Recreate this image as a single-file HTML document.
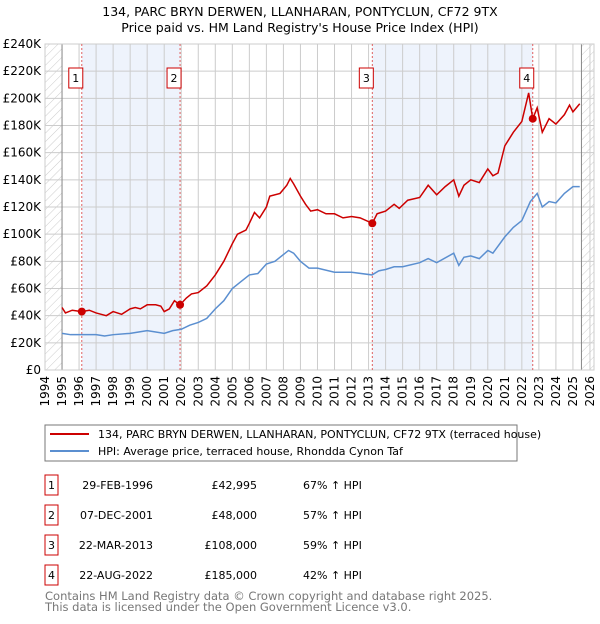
<!DOCTYPE html>
<html><head><meta charset="utf-8"><style>
body{margin:0;background:#fff;font-family:"DejaVu Sans","Liberation Sans",sans-serif;}
svg text{font-family:"DejaVu Sans","Liberation Sans",sans-serif;}
</style></head><body>
<svg id="chart" width="600" height="620" xmlns="http://www.w3.org/2000/svg">
<defs><pattern id="hatch" patternUnits="userSpaceOnUse" width="6" height="6" patternTransform="rotate(45)"><line x1="0" y1="0" x2="0" y2="6" stroke="#ccc" stroke-width="1"/></pattern></defs>
<text x="300" y="16" text-anchor="middle" font-size="12.5" fill="#000">134, PARC BRYN DERWEN, LLANHARAN, PONTYCLUN, CF72 9TX</text>
<text x="300" y="32" text-anchor="middle" font-size="12.5" fill="#000">Price paid vs. HM Land Registry's House Price Index (HPI)</text>
<g id="plot"></g>
<rect x="45" y="425" width="472" height="36" fill="#fff" stroke="#777"/>
<line x1="50" y1="434" x2="89" y2="434" stroke="#cc0000" stroke-width="2"/>
<text x="98" y="438" font-size="11">134, PARC BRYN DERWEN, LLANHARAN, PONTYCLUN, CF72 9TX (terraced house)</text>
<line x1="50" y1="451" x2="89" y2="451" stroke="#5b8fd0" stroke-width="2"/>
<text x="98" y="455" font-size="11">HPI: Average price, terraced house, Rhondda Cynon Taf</text>
<g id="table" font-size="11"></g>
<text x="45" y="600" font-size="11.5" fill="#777">Contains HM Land Registry data © Crown copyright and database right 2025.</text>
<text x="45" y="611" font-size="11.5" fill="#777">This data is licensed under the Open Government Licence v3.0.</text>
</svg>
<script>
const redT=[1995.0,1995.2,1995.6,1996.16,1996.6,1997,1997.3,1997.6,1998,1998.5,1999,1999.3,1999.6,2000,2000.5,2000.8,2001,2001.3,2001.6,2001.93,2002.3,2002.6,2003,2003.5,2004,2004.5,2005,2005.3,2005.8,2006,2006.3,2006.6,2007,2007.2,2007.8,2008.2,2008.4,2008.6,2009,2009.3,2009.6,2010,2010.5,2011,2011.5,2012,2012.5,2013.22,2013.5,2014,2014.5,2014.8,2015.3,2016,2016.5,2017,2017.5,2018,2018.3,2018.6,2019,2019.5,2020,2020.3,2020.6,2021,2021.5,2022,2022.4,2022.64,2022.9,2023.2,2023.6,2024,2024.5,2024.8,2025,2025.4];
const redV=[46,42,44,43,44,42,41,40,43,41,45,46,45,48,48,47,43,45,51,48,53,56,57,62,70,80,93,100,103,108,116,112,120,128,130,136,141,137,128,122,117,118,115,115,112,113,112,108,115,117,122,119,125,127,136,129,135,140,128,136,140,138,148,143,145,165,175,183,204,185,193,175,185,181,188,195,190,196];
const blueT=[1995,1995.5,1996,1997,1997.5,1998,1999,1999.5,2000,2001,2001.5,2002,2002.5,2003,2003.5,2004,2004.5,2005,2005.5,2006,2006.5,2007,2007.5,2008,2008.3,2008.6,2009,2009.5,2010,2011,2012,2013.2,2013.6,2014,2014.5,2015,2016,2016.5,2017,2018,2018.3,2018.6,2019,2019.5,2020,2020.3,2021,2021.5,2022,2022.5,2022.9,2023.2,2023.6,2024,2024.5,2025,2025.4];
const blueV=[27,26,26,26,25,26,27,28,29,27,29,30,33,35,38,45,51,60,65,70,71,78,80,85,88,86,80,75,75,72,72,70,73,74,76,76,79,82,79,86,77,83,84,82,88,86,98,105,110,124,130,120,124,123,130,135,135];
const saleT=[2001.93-5.77,2001.93,2013.22,2022.64];
const saleV=[42.995,48,108,185];
const saleLabels=["1","2","3","4"];
const saleDates=["29-FEB-1996","07-DEC-2001","22-MAR-2013","22-AUG-2022"];
const salePrices=["£42,995","£48,000","£108,000","£185,000"];
const salePct=["67% ↑ HPI","57% ↑ HPI","59% ↑ HPI","42% ↑ HPI"];
const yTicks=[0,20,40,60,80,100,120,140,160,180,200,220,240];
const xTicks=[1994,1995,1996,1997,1998,1999,2000,2001,2002,2003,2004,2005,2006,2007,2008,2009,2010,2011,2012,2013,2014,2015,2016,2017,2018,2019,2020,2021,2022,2023,2024,2025,2026];
const L=45,R=594,T=44,B=370;
const x=t=>L+(t-1994)*17.03;
const y=v=>B-(v/240)*(B-T);
const NS="http://www.w3.org/2000/svg";
const g=document.getElementById('plot');
function mk(tag,attrs,parent){const e=document.createElementNS(NS,tag);for(const k in attrs)e.setAttribute(k,attrs[k]);(parent||g).appendChild(e);return e;}
// bands
let b1=mk('rect',{x:x(saleT[0]),y:T,width:x(saleT[1])-x(saleT[0]),height:B-T,fill:'#eef3fc'});


let b2=mk('rect',{x:x(saleT[2]),y:T,width:x(saleT[3])-x(saleT[2]),height:B-T,fill:'#eef3fc'});


// hatch
let h1=mk('rect',{x:L,y:T,width:x(1995)-L,height:B-T,fill:'url(#hatch)'});


let h2=mk('rect',{x:x(2025.5),y:T,width:R-x(2025.5),height:B-T,fill:'url(#hatch)'});


yTicks.forEach(v=>{
 let l=mk('line',{x1:L,x2:R,y1:y(v),y2:y(v),stroke:'#ccc'});
 
 
 let t=mk('text',{x:L-4,y:y(v)+4,'text-anchor':'end','font-size':'12'});
 t.textContent='£'+v+(v?'K':'');
 
 
});
xTicks.forEach(v=>{
 let l=mk('line',{x1:x(v),x2:x(v),y1:T,y2:B,stroke:'#ccc'});
 
 
 let t=mk('text',{x:0,y:0,'text-anchor':'end','font-size':'12',transform:`translate(${x(v)+4},${B+6}) rotate(-90)`});
 t.textContent=v;
 
 
});
let ax1=mk('line',{x1:x(1995),x2:x(1995),y1:T,y2:B,stroke:'#888'});


let ax2=mk('line',{x1:x(2025.5),x2:x(2025.5),y1:T,y2:B,stroke:'#888'});


let fr=mk('rect',{x:L,y:T,width:R-L,height:B-T,fill:'none',stroke:'#ccc'});


saleT.forEach((t,i)=>{
 let l=mk('line',{x1:x(t),x2:x(t),y1:T,y2:B,stroke:'#e06060','stroke-dasharray':'2,2'});
 
 
});
let pb=mk('polyline',{points:blueT.map((t,i)=>x(t)+','+y(blueV[i])).join(' '),fill:'none',stroke:'#5b8fd0','stroke-width':1.5});


let pr=mk('polyline',{points:redT.map((t,i)=>x(t)+','+y(redV[i])).join(' '),fill:'none',stroke:'#cc0000','stroke-width':1.5});


saleT.forEach((t,i)=>{
 let c=mk('circle',{cx:x(t),cy:y(saleV[i]),r:4,fill:'#cc0000'});
 
 
 let r=mk('rect',{x:x(t)-13,y:68,width:14,height:20,fill:'#fff',stroke:'#cc0000'});
 
 
 let tx=mk('text',{x:x(t)-6,y:82,'text-anchor':'middle','font-size':'11'});
 tx.textContent=saleLabels[i];
 
 
});
const tb=document.getElementById('table');
saleLabels.forEach((s,i)=>{
 const cy=485+i*30;
 let r=mk('rect',{x:45,y:cy-10,width:13,height:20,fill:'#fff',stroke:'#cc0000'},tb);
 
 
 let a=mk('text',{x:51.5,y:cy+4,'text-anchor':'middle'},tb);a.textContent=s;
 
 
 let d=mk('text',{x:153,y:cy+4,'text-anchor':'end'},tb);d.textContent=saleDates[i];
 
 
 let p=mk('text',{x:257,y:cy+4,'text-anchor':'end'},tb);p.textContent=salePrices[i];
 
 
 let q=mk('text',{x:303,y:cy+4},tb);q.textContent=salePct[i];
 
 
});
</script>
</body></html>
